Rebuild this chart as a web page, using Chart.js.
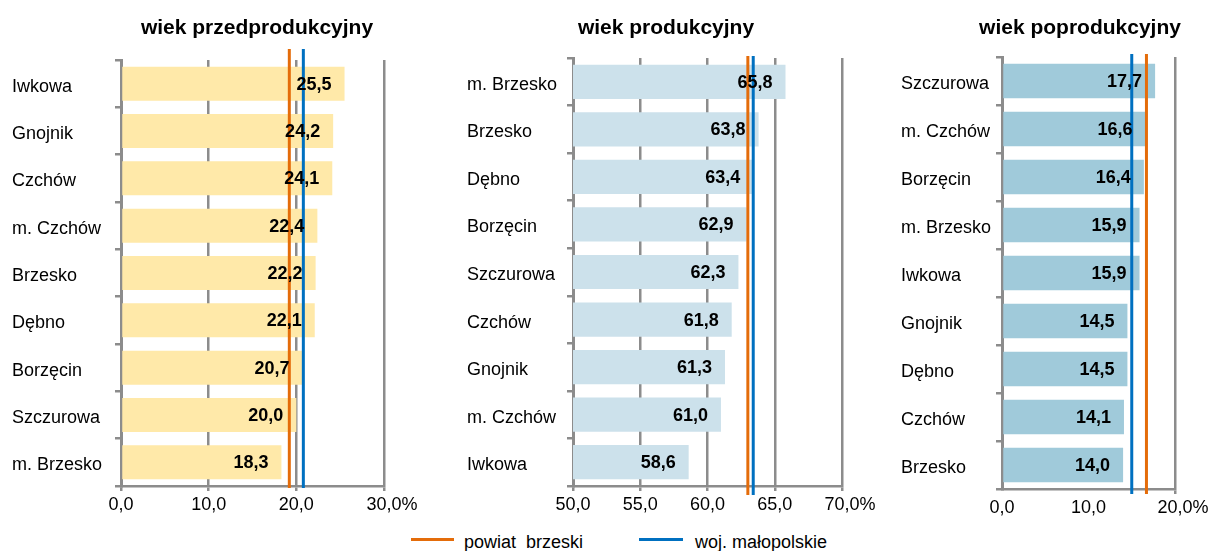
<!DOCTYPE html>
<html lang="pl">
<head>
<meta charset="utf-8">
<script src="https://cdn.jsdelivr.net/npm/chart.js@4.4.1/dist/chart.umd.min.js"></script>
<style>
  body { margin: 0; background: #fff; font-family: "Liberation Sans", Arial, sans-serif; }
  #page { position: relative; width: 1214px; height: 551px; overflow: hidden; }
  canvas { position: absolute; top: 0; }
  .title { position: absolute; top: 16px; width: 300px; text-align: center; font-weight: bold; font-size: 21px; line-height: 21px; color: #000; }
  .legend { position: absolute; top: 533px; font-size: 18px; line-height: 18px; white-space: pre; color: #000; }
  .swatch { position: absolute; top: 538px; height: 3px; }
</style>
</head>
<body>
<div id="page">
  <canvas id="c1" width="440" height="522" style="left:0"></canvas>
  <canvas id="c2" width="440" height="522" style="left:440px"></canvas>
  <canvas id="c3" width="334" height="525" style="left:880px"></canvas>

  <div class="title" style="left:107px">wiek przedprodukcyjny</div>
  <div class="title" style="left:516px">wiek produkcyjny</div>
  <div class="title" style="left:930px">wiek poprodukcyjny</div>

  <div class="swatch" style="left:411px;width:43px;background:#e46c0a"></div>
  <div class="legend" style="left:464px">powiat  brzeski</div>
  <div class="swatch" style="left:639px;width:44px;background:#0070c0"></div>
  <div class="legend" style="left:695px">woj. małopolskie</div>
</div>
<script>
// udział ludności wg grup wieku (%)
const przedLabels = ['Iwkowa', 'Gnojnik', 'Czchów', 'm. Czchów', 'Brzesko', 'Dębno', 'Borzęcin', 'Szczurowa', 'm. Brzesko'];
const przedValues = [25.5, 24.2, 24.1, 22.4, 22.2, 22.1, 20.7, 20.0, 18.3];

const prodLabels = ['m. Brzesko', 'Brzesko', 'Dębno', 'Borzęcin', 'Szczurowa', 'Czchów', 'Gnojnik', 'm. Czchów', 'Iwkowa'];
const prodValues = [65.8, 63.8, 63.4, 62.9, 62.3, 61.8, 61.3, 61.0, 58.6];

const poprodLabels = ['Szczurowa', 'm. Czchów', 'Borzęcin', 'm. Brzesko', 'Iwkowa', 'Gnojnik', 'Dębno', 'Czchów', 'Brzesko'];
const poprodValues = [17.7, 16.6, 16.4, 15.9, 15.9, 14.5, 14.5, 14.1, 14.0];

// linie odniesienia: przed, prod, poprod
const powiatValues = [19.2, 63.0, 16.7];
const wojValues = [20.8, 63.4, 15.0];

const GRAY = '#8c8c8c';
const ORANGE = '#e46c0a';
const BLUE = '#0070c0';
const FONT = '"Liberation Sans", Arial, sans-serif';
const TICK_SIZE = 18;

Chart.defaults.font.family = FONT;
Chart.defaults.color = '#000';

const fmt = v => v.toFixed(1).replace('.', ',');

// reference lines, value labels and the '%' after the last tick
const overlay = {
  id: 'overlay',
  afterDatasetsDraw(chart, args, opts) {
    const { ctx, chartArea, scales: { x } } = chart;
    ctx.save();
    ctx.lineWidth = 3;
    opts.lines.forEach(l => {
      const px = x.getPixelForValue(l.value);
      ctx.strokeStyle = l.color;
      ctx.beginPath();
      ctx.moveTo(px, chartArea.top - opts.above);
      ctx.lineTo(px, chartArea.bottom + opts.below);
      ctx.stroke();
    });

    ctx.font = 'bold 18px ' + FONT;
    ctx.fillStyle = '#000';
    ctx.textAlign = 'right';
    ctx.textBaseline = 'middle';
    const values = chart.data.datasets[0].data;
    chart.getDatasetMeta(0).data.forEach((bar, i) => {
      ctx.fillText(fmt(values[i]), bar.x - 13, bar.y + 1);
    });
    ctx.restore();
  },
  afterDraw(chart) {
    const { ctx, scales: { x } } = chart;
    ctx.save();
    ctx.font = TICK_SIZE + 'px ' + FONT;
    ctx.fillStyle = '#000';
    ctx.textAlign = 'left';
    ctx.textBaseline = 'middle';
    const last = fmt(x.max);
    const px = x.getPixelForValue(x.max) + ctx.measureText(last).width / 2;
    const py = x.top + 5 + 3 + TICK_SIZE * 1.2 / 2;
    ctx.fillText('%', px, py);
    ctx.restore();
  }
};

function makeChart(id, labels, values, cfg) {
  return new Chart(document.getElementById(id), {
    type: 'bar',
    data: {
      labels: labels,
      datasets: [{
        data: values,
        backgroundColor: cfg.color,
        borderWidth: 0,
        barPercentage: 0.72,
        categoryPercentage: 1
      }]
    },
    options: {
      indexAxis: 'y',
      responsive: false,
      animation: false,
      layout: { padding: { top: cfg.top, right: cfg.right, left: cfg.left, bottom: 0 } },
      plugins: {
        legend: { display: false },
        tooltip: { enabled: false },
        overlay: {
          lines: [
            { value: powiatValues[cfg.idx], color: ORANGE },
            { value: wojValues[cfg.idx], color: BLUE }
          ],
          above: cfg.above,
          below: cfg.below
        }
      },
      scales: {
        x: {
          min: cfg.min,
          max: cfg.max,
          ticks: { stepSize: cfg.step, padding: 3, font: { size: TICK_SIZE }, color: '#000', callback: v => fmt(v) },
          grid: { color: cfg.gridColor || GRAY, lineWidth: 2.5, tickLength: 5 },
          border: { color: GRAY, width: 2.5 },
          afterFit: s => { s.height = 36; s.paddingLeft = 0; s.paddingRight = 0; }
        },
        y: {
          ticks: { crossAlign: 'far', padding: 8, labelOffset: 3, font: { size: 18 }, color: '#000' },
          grid: { drawOnChartArea: false, color: GRAY, lineWidth: 2.5, tickLength: 6 },
          border: { color: GRAY, width: 3 },
          afterFit: s => { s.width = cfg.axisWidth; s.paddingTop = 0; s.paddingBottom = 0; }
        }
      }
    },
    plugins: [overlay]
  });
}

makeChart('c1', przedLabels, przedValues, {
  idx: 0, color: '#ffe9a9', min: 0, max: 30, step: 10,
  top: 60, right: 56, left: 12, axisWidth: 109, above: 11, below: 2
});

makeChart('c2', prodLabels, prodValues, {
  idx: 1, color: '#cce1eb', min: 50, max: 70, step: 5,
  top: 58, right: 38, left: 27, axisWidth: 106, above: 2, below: 9
});

makeChart('c3', poprodLabels, poprodValues, {
  idx: 2, color: '#a0cada', min: 0, max: 20, step: 10,
  top: 57, right: 39, left: 21, axisWidth: 101, above: 3, below: 5,
  gridColor: ctx => (ctx.tick && ctx.tick.value === 20 ? GRAY : 'rgba(0,0,0,0)')
});
</script>
</body>
</html>
